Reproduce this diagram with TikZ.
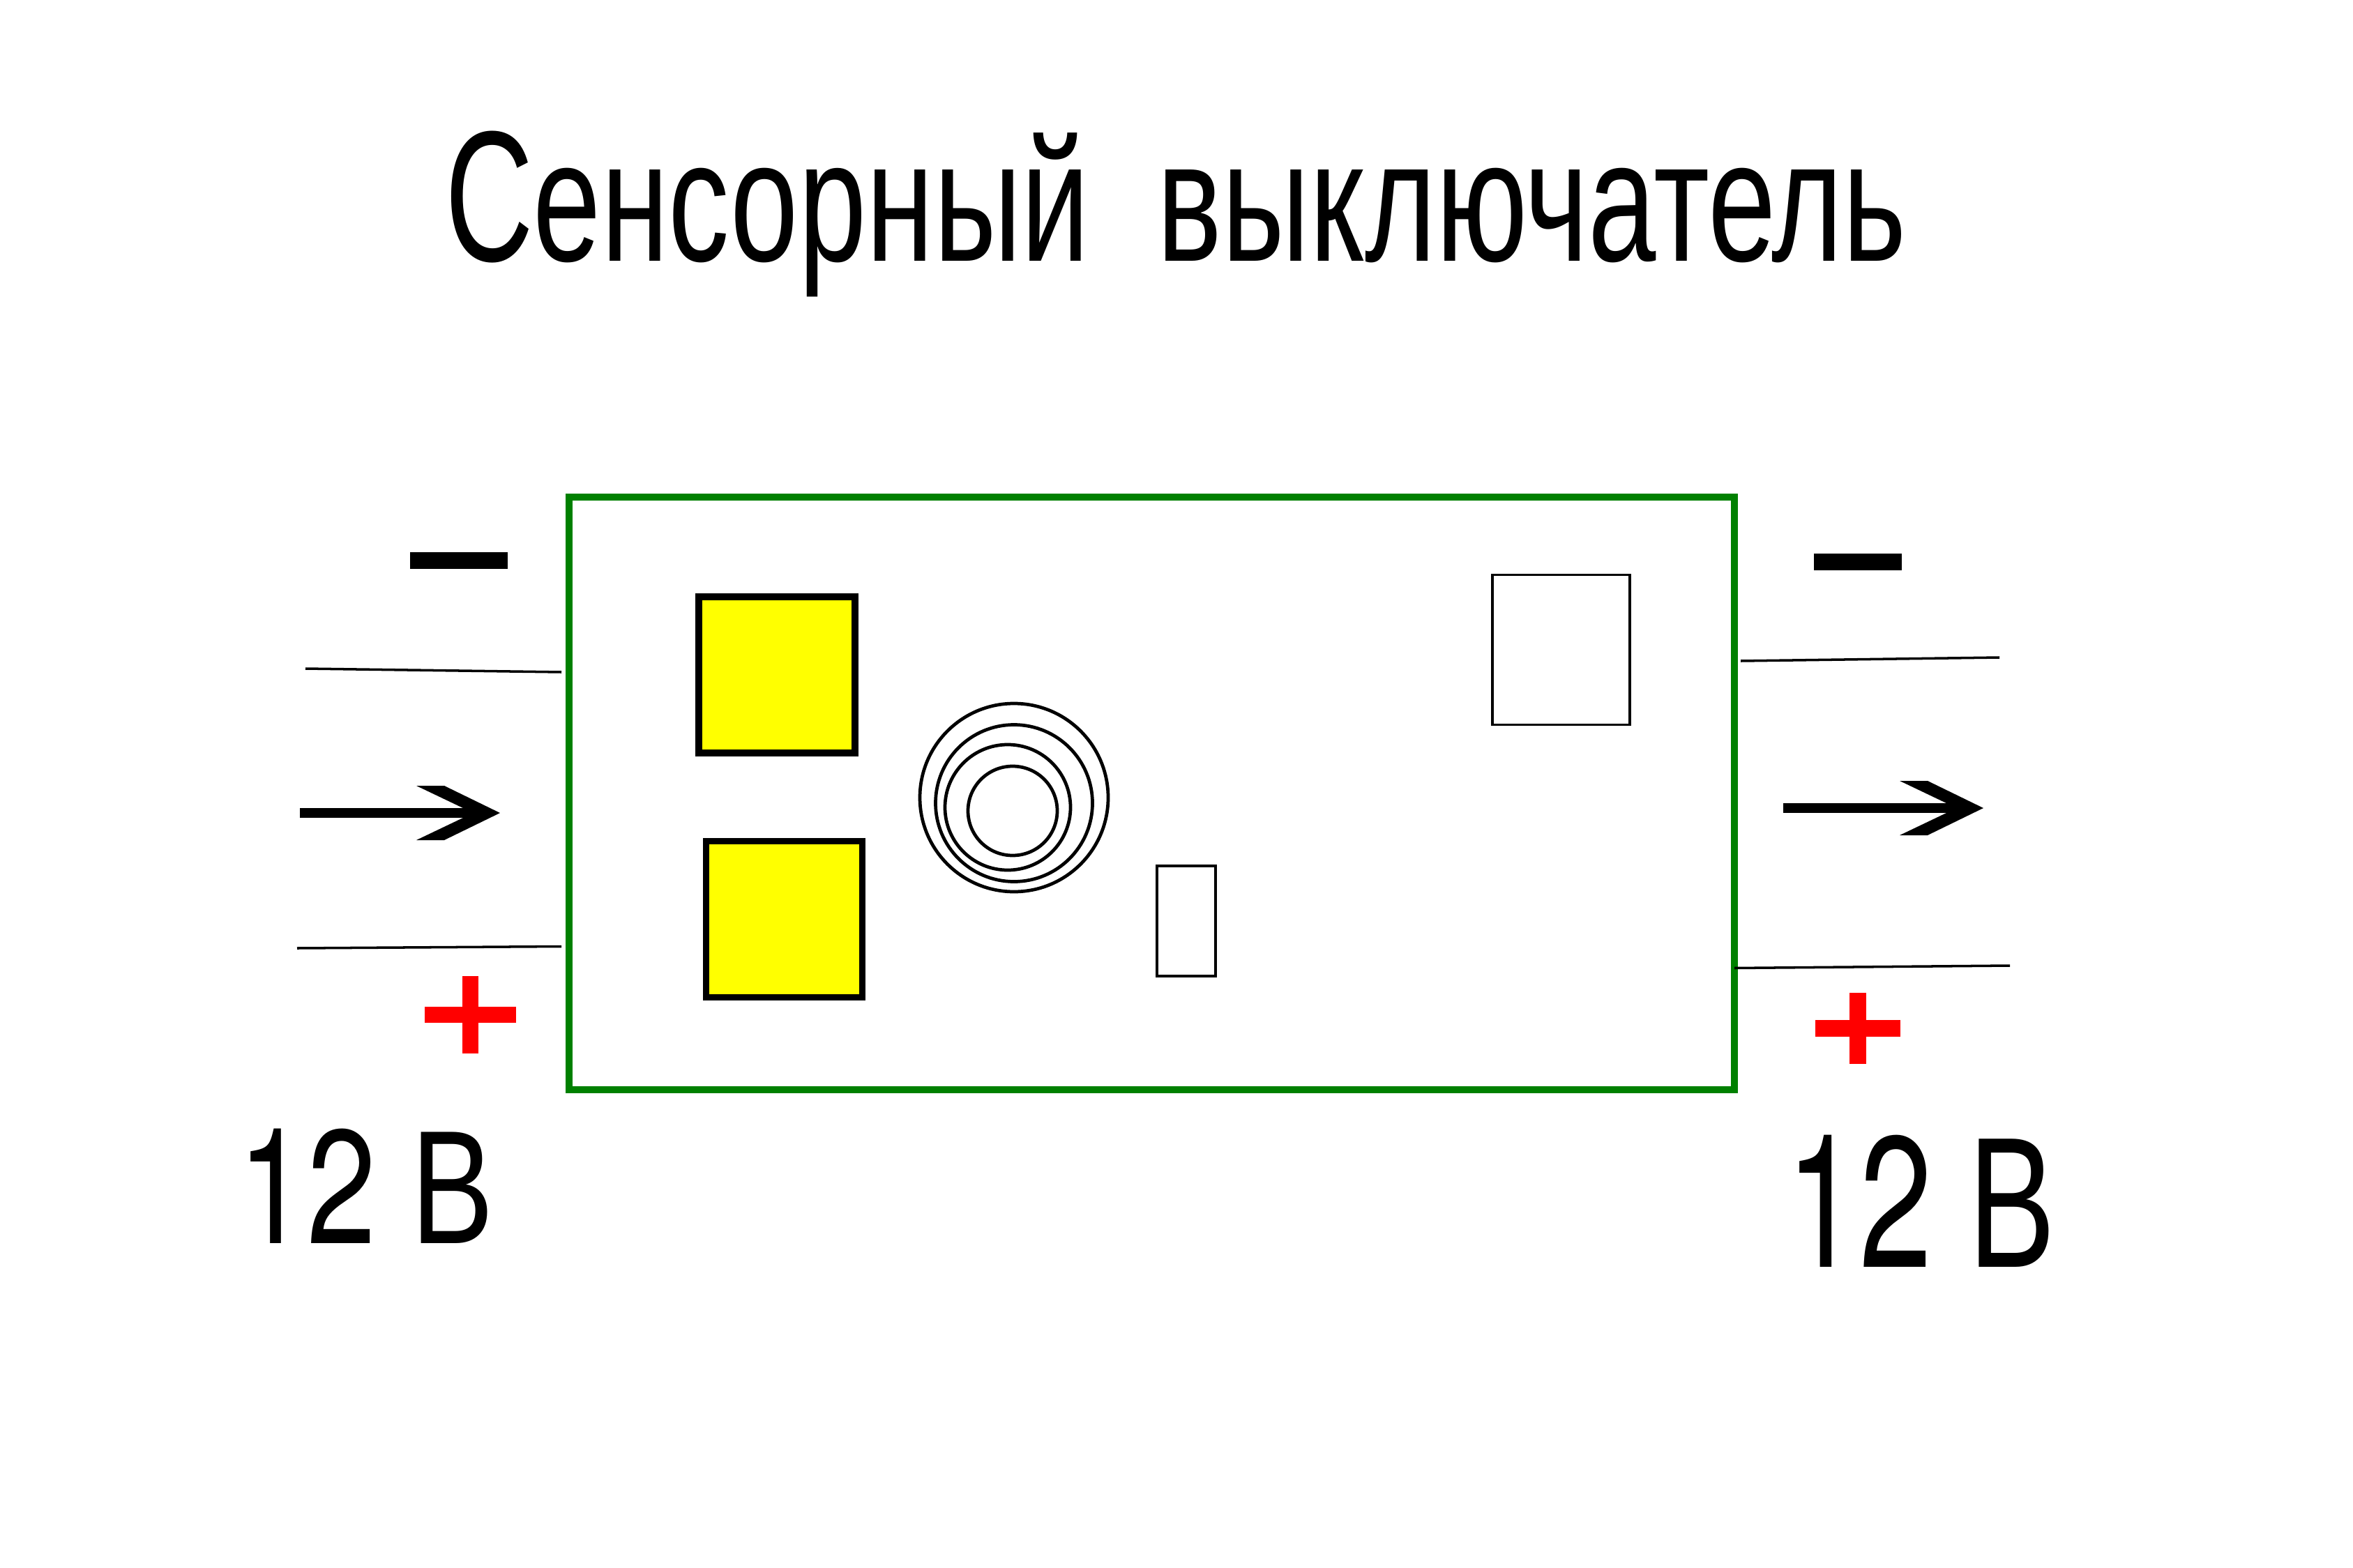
\documentclass[tikz,border=0pt]{standalone}
\usepackage{fontspec}
\usepackage{xcolor}
\setmainfont{Liberation Sans}
\newfontfamily\digitfont{TeX Gyre Heros}
\usetikzlibrary{shapes.geometric, positioning}
\definecolor{boardcolor}{RGB}{0,128,0}
\definecolor{padcolor}{RGB}{255,255,0}
\definecolor{pluscolor}{RGB}{255,0,0}

\begin{document}
\begin{tikzpicture}[
    board/.style={draw=boardcolor, line width=3pt, minimum width=16.71cm, minimum height=8.50cm},
    pad/.style={draw, line width=2.7pt, fill=padcolor, minimum width=2.24cm, minimum height=2.24cm},
    part/.style={draw, line width=1.05pt, minimum width=#1},
    ring/.style={draw, circle, line width=1.35pt, minimum size=#1},
    wire/.style={line width=1pt},
    shaft/.style={line width=4pt, shorten >=0.5cm},
    minusbar/.style={fill=black, minimum height=0.175cm, minimum width=#1},
    plusbar/.style={fill=pluscolor}
]
    \path[use as bounding box, fill=white] (0,-0.01) rectangle (33.74,-22.50);

    % Title and voltage labels
    \node[font=\fontsize{70.5}{80}\selectfont, anchor=base, xscale=0.706, transform shape, inner sep=0pt] (title) at (16.86,-3.76) {{\fontsize{76}{80}\selectfont\scalebox{0.93}[1]{С}}енсорный~~выключатель};
    \node[font=\fontsize{66}{70}\selectfont, anchor=base, xscale=0.768, transform shape, inner sep=0pt] (voltleft) at (5.25,-17.84) {{\digitfont 12} В};
    \node[font=\fontsize{76}{80}\selectfont, anchor=base, xscale=0.703, transform shape, inner sep=0pt] (voltright) at (27.55,-18.18) {{\digitfont 12} В};

    % Board
    \node[board] (pcb) at (16.515,-11.39) {};
    \node[pad] (padtop) at (11.14,-9.69) {};
    \node[pad] (padbottom) at (11.245,-13.195) {};
    \node[ring=2.70cm] (ringa) at (14.54,-11.45) {};
    \node[ring=2.25cm] (ringb) at (14.54,-11.53) {};
    \node[ring=1.80cm] (ringc) at (14.45,-11.59) {};
    \node[ring=1.28cm] (ringd) at (14.52,-11.64) {};
    \node[part=0.84cm, minimum height=1.58cm] (chip) at (17.01,-13.22) {};
    \node[part=1.97cm, minimum height=2.15cm] (relay) at (22.385,-9.33) {};

    % Input side
    \node[minusbar=1.40cm] (minusleft) at (6.58,-8.05) {};
    \node[plusbar, minimum width=1.31cm, minimum height=0.19cm] (plusleftx) at (6.745,-14.565) {};
    \node[plusbar, minimum width=0.23cm, minimum height=1.11cm] (pluslefty) at (6.745,-14.565) {};
    \coordinate (wireinua) at (4.38,-9.60);
    \coordinate (wireinub) at (8.05,-9.65);
    \coordinate (wireinla) at (4.26,-13.61);
    \coordinate (wireinlb) at (8.05,-13.585);
    \draw[wire] (wireinua) -- (wireinub);
    \draw[wire] (wireinla) -- (wireinlb);

    % Output side
    \node[minusbar=1.26cm] (minusright) at (26.64,-8.07) {};
    \node[plusbar, minimum width=1.22cm, minimum height=0.18cm] (plusrightx) at (26.64,-14.76) {};
    \node[plusbar, minimum width=0.22cm, minimum height=1.02cm] (plusrighty) at (26.64,-14.76) {};
    \coordinate (wireoutua) at (24.96,-9.49);
    \coordinate (wireoutub) at (28.67,-9.44);
    \coordinate (wireoutla) at (24.87,-13.895);
    \coordinate (wireoutlb) at (28.82,-13.86);
    \draw[wire] (wireoutua) -- (wireoutub);
    \draw[wire] (wireoutla) -- (wireoutlb);

    % Current arrows
    \coordinate (tailleft) at (4.30,-11.67);
    \coordinate (tipleft) at (7.17,-11.67);
    \coordinate (tailright) at (25.57,-11.60);
    \coordinate (tipright) at (28.44,-11.60);
    \draw[shaft] (tailleft) -- (tipleft);
    \draw[shaft] (tailright) -- (tipright);
    \foreach \tip in {tipleft, tipright}
        \fill (\tip) -- ++(-0.80,0.39) -- ++(-0.40,0) -- ++(0.67,-0.32) -- ++(0,-0.14) -- ++(-0.67,-0.32) -- ++(0.40,0) -- cycle;
\end{tikzpicture}
\end{document}
